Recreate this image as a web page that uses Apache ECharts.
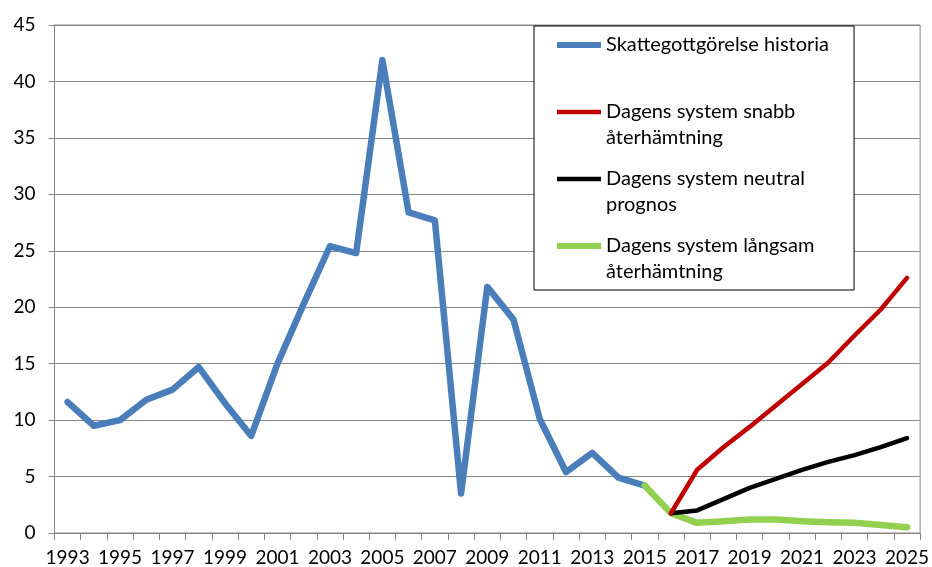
<!DOCTYPE html>
<html>
<head>
<meta charset="utf-8">
<script src="https://cdn.jsdelivr.net/npm/echarts@6/dist/echarts.min.js"></script>
<style>
    html, body { margin: 0; padding: 0; background: #fff; }
    #chart { width: 932px; height: 567px; }
</style>
</head>
<body>
<div id="chart"></div>
<script>
    // years 1993..2025
    var years = [];
    for (var y = 1993; y <= 2025; y++) years.push(String(y));

    var historia = [11.6, 9.5, 10.0, 11.8, 12.7, 14.7, 11.5, 8.6, 15.0, 20.3, 25.4, 24.8, 41.9,
        28.4, 27.7, 3.5, 21.8, 18.9, 10.1, 5.4, 7.1, 4.9, 4.2];
    var snabb = [1.75, 5.6, 7.6, 9.4, 11.3, 13.2, 15.1, 17.5, 19.8, 22.6];     // 2016..2025
    var neutral = [1.75, 2.0, 3.0, 4.0, 4.8, 5.6, 6.3, 6.9, 7.6, 8.4];        // 2016..2025
    var langsam = [4.2, 1.75, 0.9, 1.05, 1.2, 1.2, 1.05, 0.95, 0.9, 0.7, 0.5]; // 2015..2025

    var yTicks = {min: 0, max: 45, interval: 5};

    function pad(arr, startYear) {
        var out = [];
        for (var i = 0; i < years.length; i++) {
            var k = i - (startYear - 1993);
            out.push(k >= 0 && k < arr.length ? arr[k] : null);
        }
        return out;
    }

    var names = ['Skattegottgörelse historia', 'Dagens system snabb\nåterhämtning',
        'Dagens system neutral\nprognos', 'Dagens system långsam\nåterhämtning'];

    // legend icon: bar at first text line, tall invisible box so it lines up
    function legendIcon(h) {
        var t = 13 - h / 2, b = 13 + h / 2;
        return 'path://M0,' + t + 'L44,' + t + 'L44,' + b + 'L0,' + b + 'Z' +
            'M0,0L0.01,0L0.01,0.01Z M0,52L0.01,52L0.01,51.99Z';
    }

    var font = 'Lato';
    var chart = echarts.init(document.getElementById('chart'));
    chart.setOption({
        animation: false,
        textStyle: {fontFamily: font},
        grid: {
            left: 54.5, right: 9, top: 25, bottom: 34,
            show: true, borderColor: '#868686', borderWidth: 1
        },
        legend: {
            orient: 'vertical',
            left: 534, top: 26,
            padding: [6, 25, 5, 23],
            itemGap: 15,
            itemWidth: 44,
            itemHeight: 52,
            backgroundColor: '#fff',
            borderColor: '#000',
            borderWidth: 1,
            borderRadius: 0,
            symbolKeepAspect: false,
            textStyle: {fontFamily: font, fontSize: 20, color: '#000', lineHeight: 26},
            formatter: function (name) {
                return name === names[0] ? name + '\n' : name;
            },
            data: [
                {name: names[0], icon: legendIcon(6)},
                {name: names[1], icon: legendIcon(4.5)},
                {name: names[2], icon: legendIcon(4.5)},
                {name: names[3], icon: legendIcon(6)}
            ]
        },
        xAxis: {
            type: 'category',
            data: years,
            boundaryGap: true,
            axisLine: {lineStyle: {color: '#868686', width: 1}},
            axisTick: {show: true, interval: 0, length: 7, lineStyle: {color: '#868686'}},
            axisLabel: {interval: 1, margin: 15, fontSize: 19, color: '#000', fontFamily: font},
            splitLine: {show: false}
        },
        yAxis: {
            type: 'value',
            min: yTicks.min, max: yTicks.max, interval: yTicks.interval,
            axisLine: {show: true, lineStyle: {color: '#868686', width: 1}},
            axisTick: {show: true, length: 6, lineStyle: {color: '#868686'}},
            axisLabel: {margin: 19, fontSize: 19, color: '#000', fontFamily: font},
            splitLine: {lineStyle: {color: '#868686', width: 1}}
        },
        series: [
            {
                name: names[0], type: 'line', data: pad(historia, 1993),
                showSymbol: false, color: '#4a7ebb',
                lineStyle: {width: 6.5, cap: 'round', join: 'round'}
            },
            {
                name: names[3], type: 'line', data: pad(langsam, 2015),
                showSymbol: false, color: '#92d050',
                lineStyle: {width: 6.5, cap: 'round', join: 'round'}
            },
            {
                name: names[2], type: 'line', data: pad(neutral, 2016),
                showSymbol: false, color: '#000000',
                lineStyle: {width: 4.5, cap: 'round', join: 'round'}
            },
            {
                name: names[1], type: 'line', data: pad(snabb, 2016),
                showSymbol: false, color: '#c00000',
                lineStyle: {width: 4.5, cap: 'round', join: 'round'}
            }
        ]
    });
</script>
</body>
</html>
